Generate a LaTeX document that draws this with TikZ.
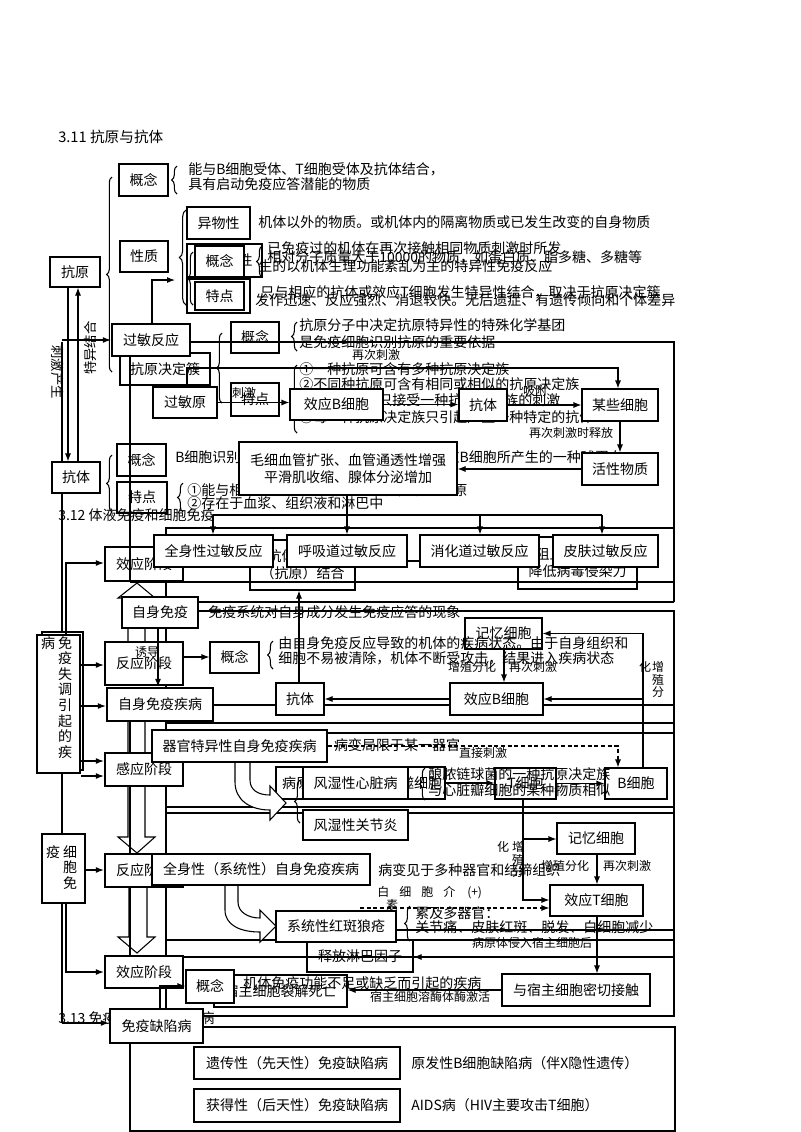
\documentclass[tikz,border=0pt]{standalone}
\usepackage{fontspec}
\setmainfont{Noto Sans CJK SC}
\usetikzlibrary{arrows.meta,decorations.pathreplacing}
\newcommand\fs{\fontsize{10.5}{13}\selectfont}
\newcommand\fsm{\fontsize{9}{10.5}\selectfont}
\newcommand\fvt{\fontsize{10.5}{11.7}\selectfont}
\newcommand\fvs{\fontsize{9}{9.5}\selectfont}
\newcommand\bx[7][]{\node[box,#1,minimum width={(#5-#3)*0.75pt},minimum height={(#6-#4)*0.75pt}] (#2) at ({(#3+#5)/2},{(#4+#6)/2}) {#7};}
\begin{document}
\begin{tikzpicture}[x=0.75pt,y=-0.75pt,
 box/.style={draw, fill=white, line width=0.8pt, inner sep=0pt, align=center, font=\fs},
 tbox/.style={box, line width=1.8pt},
 txt/.style={anchor=west, inner sep=0pt, font=\fs},
 lbl/.style={inner sep=0pt, font=\fsm},
 arr/.style={-{Latex[length=6pt,width=4.5pt]}, line width=0.8pt},
 ln/.style={line width=0.8pt},
 thk/.style={line width=2.2pt},
 brc/.style={decorate, decoration={brace, amplitude=4pt}, line width=0.8pt},
 hol/.style={draw, fill=white, line width=0.8pt}]
\useasboundingbox (0,0) rectangle (800,1132);

% ================= 3.11
\node[txt,font=\fontsize{11}{13}\selectfont] (t311) at (58,137) {3.11 抗原与抗体};
\draw[ln] (62,342) -- (62,1023);
\bx{ky}{50}{257}{100}{287}{抗原}
\bx{kt}{52}{462}{100}{493}{抗体}
\draw[arr] (ky.south -| 68,0) -- (kt.north -| 68,0);
\draw[arr] (kt.north -| 78,0) -- (ky.south -| 78,0);
\node[inner sep=0pt,font=\fontsize{10}{12}\selectfont,rotate=-90] (l1) at (58,372) {刺激产生};
\node[inner sep=0pt,font=\fontsize{10}{12}\selectfont,rotate=90] (l2) at (90,348) {特异结合};
\draw[brc] (112,372) -- (112,177);
\bx{gn1}{119}{164}{168}{196}{概念}
\draw[brc] (177,194) -- (177,166);
\node[txt] (t1a) at (188,169) {能与B细胞受体、T细胞受体及抗体结合，};
\node[txt] (t1b) at (188,184) {具有启动免疫应答潜能的物质};
\bx{xz}{120}{241}{168}{272}{性质}
\draw[brc,decoration={amplitude=5pt}] (186,305) -- (186,210);
\bx{ywx}{187}{207}{250}{239}{异物性}
\node[txt] (t2) at (258,222) {机体以外的物质。或机体内的隔离物质或已发生改变的自身物质};
\bx{dfz}{187}{244}{262}{277}{大分子性}
\bx{tyx}{187}{279}{250}{313}{特异性}
\node[txt] (t3) at (267,257) {相对分子质量大于10000的物质，如蛋白质、脂多糖、多糖等};
\node[txt] (t4) at (260,292) {只与相应的抗体或效应T细胞发生特异性结合，取决于抗原决定簇};
\bx{gn2}{195}{246}{244}{277}{概念}
\bx{td2}{195}{282}{244}{310}{特点}
\draw[brc] (193,305) -- (193,252);
\draw[brc] (262,277) -- (262,246);
\node[txt] (t7a) at (267,248) {已免疫过的机体在再次接触相同物质刺激时所发};
\node[txt] (t7b) at (258,266) {生的以机体生理功能紊乱为主的特异性免疫反应};
\node[txt] (t8) at (255,300) {发作迅速、反应强烈、消退较快。无后遗症、有遗传倾向和个体差异};
\draw[brc] (112,512) -- (112,455);
\bx{gnk}{117}{444}{166}{476}{概念}
\bx{tdk}{117}{482}{167}{513}{特点}
\draw[brc] (183,512) -- (183,483);
\node[txt] (t5) at (175,457) {B细胞识别抗原后增殖分化为效应B细胞，效应B细胞所产生的一种球蛋白};
\node[txt] (t6a) at (187,490) {①能与相应的抗原发生特异性结合，消灭抗原};
\node[txt] (t6b) at (187,503) {②存在于血浆、组织液和淋巴中};
\bx{kyjdc}{120}{353}{210}{385}{抗原决定簇}
\bx[tbox]{gmfy}{112}{324}{190}{356}{过敏反应}
\draw[arr] (gmfy.west -| 62,0) -- (gmfy.west);
\draw[arr] (gmfy.north -| 152,0) -- (152,280) -- (175,280);
\draw[brc] (222,403) -- (222,333);
\bx{gn3}{231}{322}{279}{353}{概念}
\bx{td3}{231}{383}{279}{416}{特点}
\draw[brc] (297,351) -- (297,322);
\draw[brc] (297,433) -- (297,365);
\node[txt] (t9a) at (299,325) {抗原分子中决定抗原特异性的特殊化学基团};
\node[txt] (t9b) at (299,342) {是免疫细胞识别抗原的重要依据};
\node[txt] (t10a) at (299,369) {①一种抗原可含有多种抗原决定族};
\node[txt] (t10b) at (299,384) {②不同种抗原可含有相同或相似的抗原决定族};
\node[txt] (t10c) at (299,400) {每一个B细胞只接受一种抗原决定族的刺激};
\node[txt] (t10d) at (299,417) {③每一种抗原决定族只引起产生一种特定的抗体};

% ================= 3.12 background boxes
\node[txt] (t312) at (58,515) {3.12 体液免疫和细胞免疫};
\bx{jh}{250}{540}{355}{590}{抗体与相应\\（抗原）结合}
\bx{zz}{518}{537}{637}{589}{阻止病毒吸附\\降低病毒侵染力}

% ================= frames
\draw[thk] (gmfy.east |- 0,342) -- (674,342) -- (674,602);
\draw[thk] (130,582) -- (674,582);
\draw[thk] (166,1016) -- (166,528) -- (674,528);
\draw[thk] (198,602) -- (674,602);
\draw[thk] (198,611) -- (674,611) -- (674,1016) -- (203,1016);
\draw[thk] (166,723) -- (674,723);
\draw[thk] (166,733) -- (674,733);
\draw[thk] (166,807) -- (674,807);
\draw[thk] (166,813) -- (674,813);
\draw[thk] (166,940) -- (674,940);
\draw[thk] (397,930) -- (674,930);
\draw[thk] (213,705) -- (674,705);
\draw[thk] (130,1027) rectangle (675,1131);
\draw[hol] (128,642) -- (128,598) -- (118,598) -- (137,583) -- (155,598) -- (145,598) -- (145,642);
\draw[hol] (128,721) -- (128,837) -- (118,837) -- (137,853) -- (155,837) -- (145,837) -- (145,721);
\draw[hol] (129,887) -- (129,937) -- (118,937) -- (137,953) -- (155,937) -- (147,937) -- (147,887);
\draw[thk] (130,721) -- (130,955);

% ================= stage boxes
\bx[tbox]{xy1}{105}{547}{183}{581}{效应阶段}
\bx[tbox]{fy1}{105}{642}{183}{685}{反应阶段}
\bx[tbox]{gy}{105}{753}{183}{786}{感应阶段}
\bx[tbox]{fy2}{105}{854}{183}{887}{反应阶段}
\bx[tbox]{xy2}{105}{956}{183}{988}{效应阶段}
\draw[thk] (gmfy.south -| 130,0) -- (130,582);

% ================= allergy flow
\bx{gmy}{153}{387}{217}{418}{过敏原}
\bx{xyb}{290}{389}{383}{420}{效应B细胞}
\bx{kt2}{459}{389}{507}{421}{抗体}
\bx{mxxb}{582}{389}{658}{421}{某些细胞}
\bx{hxwz}{582}{453}{658}{485}{活性物质}
\bx{mxxg}{239}{442}{457}{495}{毛细血管扩张、血管通透性增强\\平滑肌收缩、腺体分泌增加}
\draw[arr] (gmy.north -| 187,0) -- (187,368) -- (618,368) -- (mxxb.north -| 618,0);
\draw[arr] (gmy.east) -- (gmy.east -| xyb.west);
\draw[arr] (xyb.east) -- (xyb.east -| kt2.west);
\draw[arr] (kt2.east) -- (kt2.east -| mxxb.west);
\draw[arr] (mxxb.south) -- (hxwz.north);
\draw[arr] (hxwz.west) -- (hxwz.west -| mxxg.east);
\node[lbl] (l3) at (376,355) {再次刺激};
\node[lbl] (l4) at (244,393) {刺激};
\node[lbl] (l5) at (535,391) {吸附};
\node[lbl] (l6) at (571,433) {再次刺激时释放};
\bx{qsx}{154}{535}{273}{567}{全身性过敏反应}
\bx{hxd}{287}{535}{407}{567}{呼吸道过敏反应}
\bx{xhd}{420}{535}{539}{567}{消化道过敏反应}
\bx{pf}{553}{535}{658}{567}{皮肤过敏反应}
\draw[arr] (mxxg.south -| 347,0) -- (hxd.north -| 347,0);
\draw[ln] (213,515) -- (602,515);
\draw[arr] (213,515) -- (qsx.north -| 213,0);
\draw[arr] (480,515) -- (xhd.north -| 480,0);
\draw[arr] (602,515) -- (pf.north -| 602,0);
\draw[ln] (hxd.east |- 0,561) -- (xhd.west |- 0,561);

% ================= humoral / cellular
\bx{kt3}{276}{683}{324}{715}{抗体}
\bx{jy2}{465}{618}{542}{649}{记忆细胞}
\bx{xyb2}{450}{683}{543}{715}{效应B细胞}
\draw[arr] (xyb2.west) -- (xyb2.west -| kt3.east);
\draw[arr] (kt3.north -| 299,0) -- (jh.south -| 299,0);
\draw[arr] (jy2.south -| 504,0) -- (xyb2.north -| 504,0);
\node[lbl] (l7) at (472,667) {增殖分化};
\node[lbl] (l8) at (533,667) {再次刺激};
\bx{byt}{276}{767}{330}{799}{病原体}
\bx{tsxb}{383}{767}{445}{799}{吞噬细胞}
\bx{tc}{495}{768}{556}{799}{T细胞}
\bx{bc}{605}{768}{667}{799}{B细胞}
\draw[arr] (tsxb.east) -- (tsxb.east -| tc.west);
\draw[arr] (tc.east) -- (tc.east -| bc.west);
\draw[arr] (bc.north -| 643,0) -- (jy2.east -| 643,0) -- (jy2.east);
\draw[arr] (xyb2.east -| 643,0) -- (xyb2.east);
\node[lbl,align=center,anchor=north,font=\fvs] (l9) at (658,661) {增\\殖\\分};
\node[lbl] (l10) at (645,667) {化};
\bx{jy3}{557}{823}{635}{854}{记忆细胞}
\bx{xyt}{550}{885}{643}{916}{效应T细胞}
\coordinate (tb) at (523,839);
\draw[arr] (tc.south -| tb) -- (tb) -- (jy3.west |- tb);
\draw[arr] (tb) -- (523,900) -- (xyt.west |- 0,900);
\draw[arr] (jy3.south -| 597,0) -- (xyt.north -| 597,0);
\node[lbl] (l11) at (565,866) {增殖分化};
\node[lbl] (l12) at (627,866) {再次刺激};
\node[lbl,align=center,anchor=north,font=\fvs] (l13) at (518,841) {增\\殖\\分};
\node[lbl] (l14) at (503,847) {化};
\bx{sflb}{307}{940}{413}{972}{释放淋巴因子}
\bx{mqjc}{502}{974}{650}{1006}{与宿主细胞密切接触}
\bx{lj}{214}{975}{347}{1007}{宿主细胞裂解死亡}
\draw[arr] (xyt.south -| 597,0) -- (mqjc.north -| 597,0);
\draw[arr] (mqjc.west) -- (mqjc.west -| lj.east);
\draw[thk] (xy2.east |- 0,957) -- (674,957);
\draw[arr] (445,957) -- (sflb.east |- 0,957);
\node[lbl] (l15) at (532,943) {病原体侵入宿主细胞后};
\node[lbl] (l16) at (430,997) {宿主细胞溶酶体酶激活};

% ================= autoimmune
\bx{zsmy}{122}{597}{198}{628}{自身免疫}
\node[txt] (t20) at (208,612) {免疫系统对自身成分发生免疫应答的现象};
\bx[tbox]{zsmyjb}{107}{688}{213}{721}{自身免疫疾病}
\draw[arr] (zsmy.south -| 158,0) -- (zsmyjb.north -| 158,0);
\node[lbl] (l17) at (147,652) {诱导};
\bx{gn4}{210}{642}{259}{673}{概念}
\draw[arr] (fy1.east |- 0,657) -- (gn4.west |- 0,657);
\draw[brc] (273,669) -- (273,641);
\node[txt] (t21a) at (278,643) {由自身免疫反应导致的机体的疾病状态。由于自身组织和};
\node[txt] (t21b) at (278,658) {细胞不易被清除，机体不断受攻击，结果进入疾病状态};
\draw[hol] (235,762) -- (235,782) .. controls (235,800) and (250,810) .. (270,810) -- (270,820) -- (286,803) -- (270,786) -- (270,795) .. controls (258,795) and (250,790) .. (250,780) -- (250,762);
\bx{qgtyx}{152}{730}{327}{762}{器官特异性自身免疫疾病}
\draw[arr,dash pattern=on 3pt off 2pt] (qgtyx.east) -- (618,746) -- (bc.north -| 618,0);
\node[lbl] (l18) at (483,753) {直接刺激};
\node[font=\fs,inner sep=0pt] (t22) at (397,745) {病变局限于某一器官};
\bx{fsxzb}{303}{767}{408}{799}{风湿性心脏病}
\bx{fsgjy}{303}{810}{408}{840}{风湿性关节炎}
\draw[brc] (300,823) -- (300,780);
\draw[brc] (425,800) -- (425,768);
\node[txt] (t23a) at (428,774) {酿脓链球菌的一种抗原决定族};
\node[txt] (t23b) at (428,790) {与心脏瓣细胞的某种物质相似};
\draw[hol] (225,885) -- (225,910) .. controls (225,925) and (240,932) .. (260,932) -- (260,942) -- (276,926) -- (260,910) -- (260,918) .. controls (248,918) and (238,912) .. (238,902) -- (238,885);
\bx{qsx2}{152}{854}{370}{885}{全身性（系统性）自身免疫疾病}
\node[txt] (t24) at (378,870) {病变见于多种器官和结缔组织};
\bx{xthb}{276}{911}{396}{942}{系统性红斑狼疮}
\node[lbl,anchor=west] (l19) at (377,893) {白\hspace{7.5pt}细\hspace{7.5pt}胞\hspace{7.5pt}介\hspace{9pt}(+)};
\coordinate (ds) at (360,908);
\draw[arr,dash pattern=on 3pt off 2pt] (ds) -- (xyt.west |- ds);
\node[lbl] (l19b) at (392,905) {素};
\draw[brc] (410,941) -- (410,906);
\node[txt] (t25a) at (415,913) {累及多器官：};
\node[txt] (t25b) at (415,927) {关节痛、皮肤红斑、脱发、白细胞减少};

% ================= left column boxes
\draw[line width=1.2pt, fill=white] (42,632) rectangle (83,770);
\bx[line width=1.2pt]{bing}{37}{635}{80}{773}{}
\node[font=\fs,inner sep=0pt] (tb1) at (48,643) {病};
\node[font=\fvt,inner sep=0pt,align=center,anchor=north] (tb2) at (65,636) {免\\疫\\失\\调\\引\\起\\的\\疾};
\bx[line width=1.2pt]{xbm}{42}{834}{85}{903}{}
\node[font=\fs,inner sep=0pt] (tb3) at (53,852) {疫};
\node[font=\fvt,inner sep=0pt,align=center,anchor=north] (tb4) at (70,845) {细\\胞\\免};
\draw[arr] (bing.east |- 0,665) -- (fy1.west |- 0,665);
\draw[arr] (bing.east |- 0,706) -- (zsmyjb.west |- 0,706);
\draw[arr] (bing.east |- 0,761) -- (gy.west |- 0,761);
\draw[arr] (bing.east |- 0,776) -- (gy.west |- 0,776);
\draw[arr] (xbm.east |- 0,870) -- (fy2.west |- 0,870);
\draw[arr] (xbm.south -| 66,0) -- (66,972) -- (xy2.west |- 0,972);
\draw[arr] (bing.north -| 66,0) -- (66,563) -- (xy1.west |- 0,563);

% ================= 3.13
\node[txt] (t313) at (58,1018) {3.13 免疫失调引起的疾病};
\bx[tbox]{mqqx}{110}{1009}{203}{1043}{免疫缺陷病}
\draw[arr] (62,1023) -- (mqqx.west |- 0,1023);
\bx{gn5}{186}{970}{234}{1003}{概念}
\draw[arr] (mqqx.north -| 160,0) -- (160,986) -- (gn5.west |- 0,986);
\node[txt] (t26) at (243,983) {机体免疫功能不足或缺乏而引起的疾病};
\bx{yc}{194}{1047}{400}{1079}{遗传性（先天性）免疫缺陷病}
\bx{hd}{194}{1089}{400}{1122}{获得性（后天性）免疫缺陷病}
\node[txt] (t27) at (411,1063) {原发性B细胞缺陷病（伴X隐性遗传）};
\node[txt] (t28) at (411,1105) {AIDS病（HIV主要攻击T细胞）};
\end{tikzpicture}
\end{document}
